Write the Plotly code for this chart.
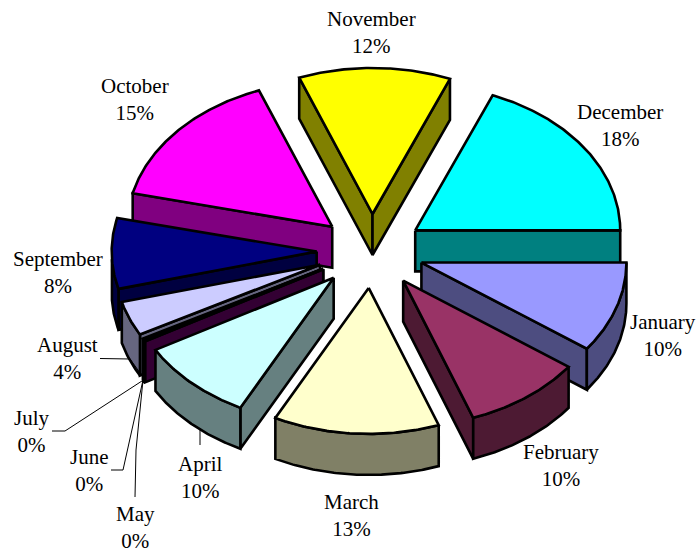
import numpy as np
import plotly.graph_objects as go

months = ["January", "February", "March", "April", "May", "June", "July",
          "August", "September", "October", "November", "December"]
shares = [10.0, 9.5, 13.4, 9.5, 0.1, 0.1, 0.1, 3.9, 7.9, 15.4, 11.7, 18.4]
top_colors = ["#9999FF", "#993366", "#FFFFCC", "#CCFFFF", "#660066", "#FF8080", "#0066CC",
              "#CCCCFF", "#000080", "#FF00FF", "#FFFF00", "#00FFFF"]
side_colors = ["#4D4D80", "#4D1A33", "#808066", "#668080", "#330033", "#804040", "#003366",
               "#666680", "#000040", "#800080", "#808000", "#008080"]

label_pos = [(663, 335), (561, 465), (351, 515), (200, 477), (135, 527.5), (89, 470), (32, 431),
             (67, 358), (58, 272), (135, 99), (371, 32), (620, 125)]

# (x, y) polylines of the leader lines, in picture pixels
leaders = [
    [(100, 358.5), (130, 359), (143, 377)],
    [(52, 431), (65, 431), (145, 379)],
    [(111, 470), (123, 470), (143, 380)],
    [(135, 497), (136, 450), (143, 380)],
    [(200, 445), (200, 428)],
]

CX, CY = 372, 251
RX, RY = 205, 146
EX, EY = 52, 37
DEPTH = 41
START = 90.2


def warp(t):
    """Perspective shift of the drawn angle (degrees)."""
    return t - 1.6 * (1 - np.cos(np.radians(t - 120)))


def rim(apex, t0, t1):
    ts = np.radians(warp(np.linspace(t0, t1, max(int(abs(t1 - t0)) * 2, 2))))
    return apex[0] + RX * np.sin(ts), apex[1] - RY * np.cos(ts)


def poly(fig, xs, ys, fill):
    fig.add_trace(go.Scatter(x=list(xs) + [xs[0]], y=list(ys) + [ys[0]], mode="lines",
                             fill="toself", fillcolor=fill, hoverinfo="skip",
                             line=dict(color="black", width=2.6), showlegend=False))


angles = START + np.concatenate([[0], np.cumsum(shares)]) * 3.6
slices = []
for i, m in enumerate(months):
    t0, t1 = angles[i], angles[i + 1]
    mid = np.radians(warp((t0 + t1) / 2))
    ex = EX + 4 * max(0.0, np.cos(mid - np.radians(245))) ** 2
    apex = (CX + ex * np.sin(mid), CY - EY * np.cos(mid))
    slices.append((-np.cos(mid), i, t0, t1, apex))

fig = go.Figure()
for _, i, t0, t1, apex in sorted(slices, key=lambda s: s[0]):
    xr, yr = rim(apex, t0, t1)
    side = side_colors[i]
    # radial walls facing the viewer
    if np.sin(np.radians(warp(t0))) < 0:
        poly(fig, [apex[0], xr[0], xr[0], apex[0]],
             [apex[1], yr[0], yr[0] + DEPTH, apex[1] + DEPTH], side)
    if np.sin(np.radians(warp(t1))) > 0:
        poly(fig, [apex[0], xr[-1], xr[-1], apex[0]],
             [apex[1], yr[-1], yr[-1] + DEPTH, apex[1] + DEPTH], side)
    # outer wall on the front half
    a0, a1 = max(t0, START), min(t1, 270)
    if a1 > a0:
        xa, ya = rim(apex, a0, a1)
        poly(fig, list(xa) + list(xa[::-1]), list(ya) + list(ya[::-1] + DEPTH), side)
    poly(fig, [apex[0]] + list(xr), [apex[1]] + list(yr), top_colors[i])

for seg in leaders:
    fig.add_trace(go.Scatter(x=[p[0] for p in seg], y=[p[1] for p in seg], mode="lines",
                             hoverinfo="skip", line=dict(color="black", width=1), showlegend=False))

for m, s, (lx, ly) in zip(months, shares, label_pos):
    fig.add_annotation(x=lx, y=ly, xref="x", yref="y", showarrow=False, align="center",
                       text=f"{m}<br>{round(s)}%",
                       font=dict(family="Liberation Serif", size=21, color="black"))

fig.update_layout(width=700, height=553, margin=dict(l=0, r=0, t=0, b=0),
                  paper_bgcolor="white", plot_bgcolor="white", showlegend=False,
                  xaxis=dict(range=[0, 700], visible=False, fixedrange=True),
                  yaxis=dict(range=[553, 0], visible=False, fixedrange=True))
fig.write_html("out.html", config={"displayModeBar": False},
               post_script="document.body.style.margin='0';document.body.style.overflow='hidden';")
